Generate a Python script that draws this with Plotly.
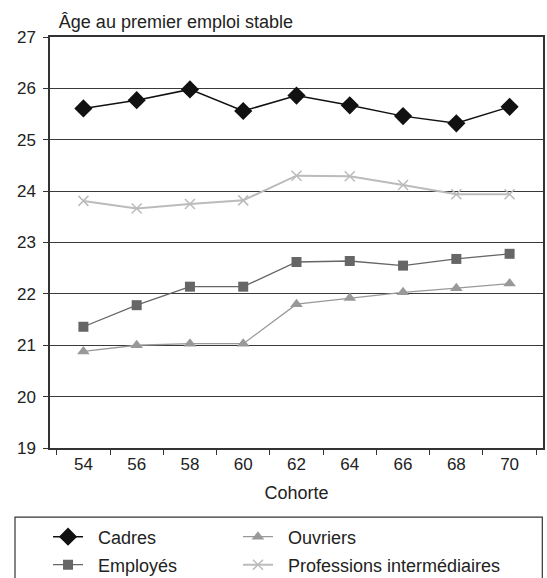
import plotly.graph_objects as go

cohortes = ["54", "56", "58", "60", "62", "64", "66", "68", "70"]
cadres = [25.61, 25.77, 25.98, 25.56, 25.86, 25.67, 25.46, 25.32, 25.64]
employes = [21.36, 21.78, 22.14, 22.14, 22.62, 22.64, 22.55, 22.68, 22.78]
ouvriers = [20.88, 21.00, 21.03, 21.03, 21.80, 21.92, 22.03, 22.11, 22.20]
prof_inter = [23.81, 23.66, 23.75, 23.82, 24.30, 24.29, 24.12, 23.94, 23.94]

FONT = "Liberation Sans, Arial, sans-serif"
TXT = "#222222"
PAD = "\u00a0\u00a0"  # small gap between legend symbol and label

fig = go.Figure()
fig.add_trace(go.Scatter(
    x=cohortes, y=cadres, name=PAD + "Cadres", mode="lines+markers",
    line=dict(color="#111111", width=1.5),
    marker=dict(symbol="diamond", size=14, color="#111111"),
    legend="legend",
))
fig.add_trace(go.Scatter(
    x=cohortes, y=ouvriers, name=PAD + "Ouvriers", mode="lines+markers",
    line=dict(color="#999999", width=1.3),
    marker=dict(symbol="triangle-up", size=11, color="#999999"),
    legend="legend2",
))
fig.add_trace(go.Scatter(
    x=cohortes, y=employes, name=PAD + "Employés", mode="lines+markers",
    line=dict(color="#666666", width=1.3),
    marker=dict(symbol="square", size=10, color="#666666"),
    legend="legend3",
))
fig.add_trace(go.Scatter(
    x=cohortes, y=prof_inter, name=PAD + "Professions intermédiaires",
    mode="lines+markers",
    line=dict(color="#bbbbbb", width=2),
    marker=dict(symbol="x-thin", size=10, color="#bbbbbb",
                line=dict(color="#bbbbbb", width=1.5)),
    legend="legend4",
))

# frame around the legend rows
fig.add_shape(type="rect", xref="paper", yref="paper",
              x0=-0.071, x1=0.9986, y0=-0.33, y1=-0.168,
              line=dict(color="#333333", width=1.2), fillcolor="rgba(0,0,0,0)")

legend_common = dict(
    orientation="h", xanchor="left", yanchor="middle",
    bgcolor="rgba(0,0,0,0)", borderwidth=0,
    font=dict(family=FONT, size=18, color=TXT),
)
COL1, COL2 = -0.004, 0.3813
ROW1, ROW2 = -0.2165, -0.2846

fig.update_layout(
    width=547, height=578,
    margin=dict(l=50, r=4, t=37, b=130, autoexpand=False),
    paper_bgcolor="white", plot_bgcolor="white",
    font=dict(family=FONT, size=18, color=TXT),
    showlegend=True,
    legend=dict(x=COL1, y=ROW1, **legend_common),
    legend2=dict(x=COL2, y=ROW1, **legend_common),
    legend3=dict(x=COL1, y=ROW2, **legend_common),
    legend4=dict(x=COL2, y=ROW2, **legend_common),
    title=dict(
        text="Âge au premier emploi stable", xref="container", x=0.5356,
        xanchor="right", yref="container", y=0.962, yanchor="middle",
        font=dict(family=FONT, size=18, color=TXT),
    ),
)

fig.update_xaxes(
    type="category", tickson="boundaries", ticks="outside", ticklen=5,
    tickcolor="#333333", showline=True, linecolor="#333333", linewidth=1.5,
    mirror=True, showgrid=False,
    title=dict(text="Cohorte", standoff=13, font=dict(family=FONT, size=18, color=TXT)),
    tickfont=dict(family=FONT, size=17, color=TXT),
)
fig.update_yaxes(
    range=[19, 27], dtick=1, ticks="outside", ticklen=5, tickcolor="#333333",
    showline=True, linecolor="#333333", linewidth=1.5, mirror=True,
    showgrid=True, gridcolor="#3a3a3a", gridwidth=1, zeroline=False,
    tickfont=dict(family=FONT, size=17, color=TXT),
    ticklabelstandoff=4,
)

fig.write_html("out.html")
